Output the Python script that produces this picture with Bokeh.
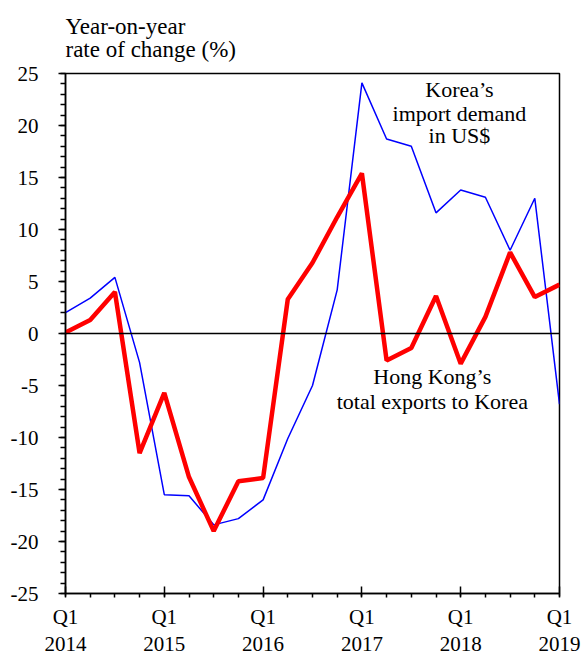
from bokeh.plotting import figure
from bokeh.models import Range1d, FixedTicker, Span, Label, Title
from bokeh.embed import file_html
from bokeh.resources import INLINE

quarters = list(range(21))  # Q1 2014 ... Q1 2019
korea_imports = [2.0, 3.4, 5.4, -2.8, -15.5, -15.6, -18.4, -17.8, -16.0, -10.1,
                 -5.0, 4.2, 24.1, 18.7, 18.0, 11.6, 13.8, 13.1, 8.0, 13.0, -6.8]
hk_exports = [0.1, 1.3, 4.0, -11.5, -5.7, -13.8, -19.0, -14.2, -13.9, 3.3,
              6.8, 11.2, 15.4, -2.6, -1.4, 3.6, -2.9, 1.6, 7.8, 3.5, 4.7]
year_ticks = [0, 4, 8, 12, 16, 20]
year_labels = ["Q1\n2014", "Q1\n2015", "Q1\n2016", "Q1\n2017", "Q1\n2018", "Q1\n2019"]
y_ticks = [-25, -20, -15, -10, -5, 0, 5, 10, 15, 20, 25]
y_labels = ["-25", "-20", "-15", "-10", "-5", "0", "5", "10", "15", "20", "25"]

FONT = "Liberation Serif"
FS = "21px"

p = figure(width=582, height=659, output_backend="svg", toolbar_location=None,
           x_range=Range1d(0, 20), y_range=Range1d(-25, 25),
           min_border_left=65, min_border_top=71, min_border_right=23, min_border_bottom=62)
p.grid.visible = False
p.background_fill_color = "white"
p.border_fill_color = "white"
p.outline_line_color = "black"
p.outline_line_width = 1.5

t = Title(text="Year-on-year\nrate of change (%)", align="left", text_font=FONT,
          text_font_size="23px", text_font_style="normal", text_color="black",
          text_line_height=0.92, standoff=23, offset=0)
p.add_layout(t, "above")

p.xaxis.ticker = FixedTicker(ticks=year_ticks, minor_ticks=quarters)
p.xaxis.major_label_overrides = {tk: lb for tk, lb in zip(year_ticks, year_labels)}
p.yaxis.ticker = FixedTicker(ticks=y_ticks, minor_ticks=list(range(-25, 26)))
p.yaxis.major_label_overrides = {tk: lb for tk, lb in zip(y_ticks, y_labels)}

for ax in (p.xaxis[0], p.yaxis[0]):
    ax.axis_line_color = "black"
    ax.axis_line_width = 1.5
    ax.major_tick_line_color = "black"
    ax.minor_tick_line_color = "black"
    ax.major_tick_line_width = 1.5
    ax.minor_tick_line_width = 1.5
    ax.major_label_text_font = FONT
    ax.major_label_text_font_size = FS
    ax.major_label_text_color = "black"

p.xaxis.major_tick_in = 7
p.xaxis.major_tick_out = 3
p.xaxis.minor_tick_in = 0
p.xaxis.minor_tick_out = 4
p.xaxis.major_label_standoff = 7
p.xaxis.major_label_text_line_height = 1.15

p.yaxis.major_tick_in = 0
p.yaxis.major_tick_out = 7
p.yaxis.minor_tick_in = 0
p.yaxis.minor_tick_out = 5
p.yaxis.major_label_standoff = 20

p.add_layout(Span(location=0, dimension="width", line_color="black", line_width=1.5))

p.line(quarters, korea_imports, line_color="#0000ff", line_width=1.5)
p.line(quarters, hk_exports, line_color="#ff0000", line_width=4.5)

def lab(x, y, txt, align="center"):
    p.add_layout(Label(x=x, y=y, text=txt, text_font=FONT, text_font_size="22px",
                       text_color="black", text_align=align, text_baseline="alphabetic"))

lab(15.95, 23.5, "Korea\u2019s")
lab(15.95, 21.2, "import demand")
lab(15.95, 19.0, "in US$")
lab(14.85, -4.15, "Hong Kong\u2019s")
lab(14.85, -6.55, "total exports to Korea")

open("out.html", "w").write(file_html(p, INLINE))
